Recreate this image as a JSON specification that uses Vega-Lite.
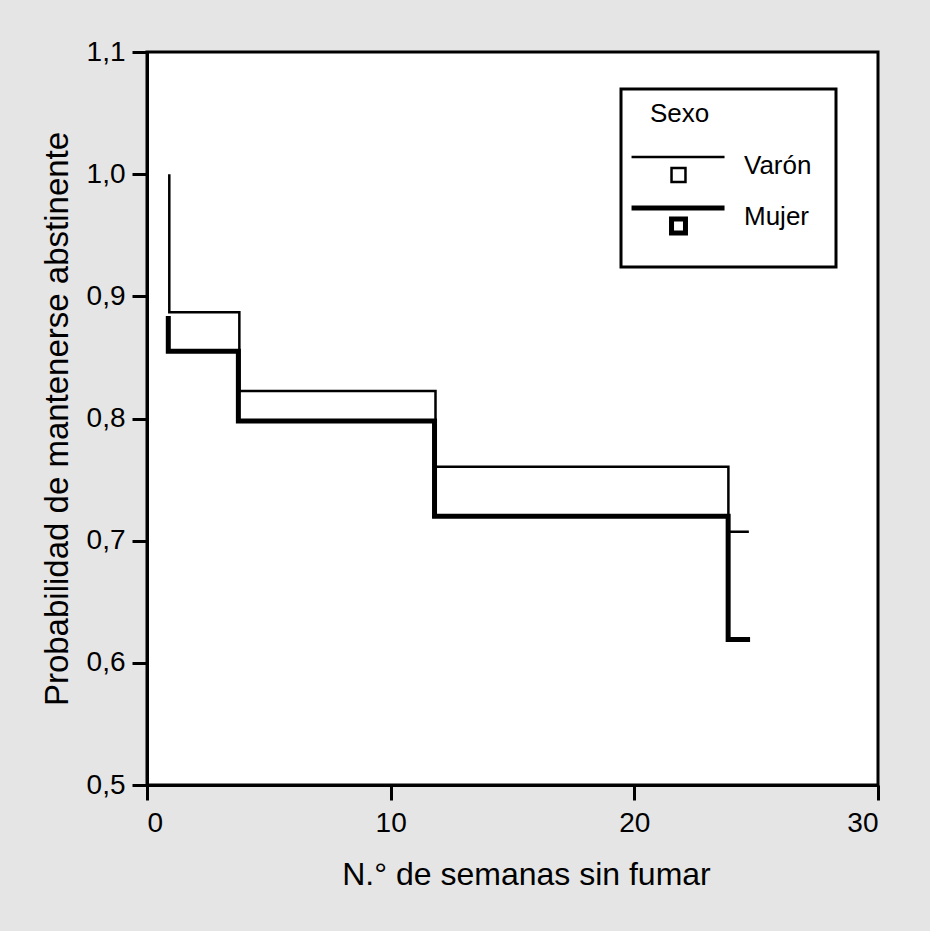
{
  "$schema": "https://vega.github.io/schema/vega-lite/v6.json",
  "width": 731,
  "height": 733,
  "autosize": {"type": "none"},
  "padding": {"left": 147, "top": 52, "right": 52, "bottom": 146},
  "background": "#e5e5e5",
  "config": {
    "font": "Liberation Sans",
    "view": {"fill": "white", "stroke": "black", "strokeWidth": 3},
    "axis": {
      "domainColor": "black", "domainWidth": 3,
      "tickColor": "black", "tickWidth": 3, "tickSize": 15,
      "labelFontSize": 28, "labelColor": "black", "labelFont": "Liberation Sans",
      "titleFontWeight": "normal", "titleColor": "black", "titleFont": "Liberation Sans",
      "grid": false
    },
    "legend": {
      "orient": "none", "legendX": 474, "legendY": 37,
      "padding": 24, "fillColor": "white", "strokeColor": "black",
      "titleFontSize": 26, "titleFontWeight": "normal", "titleColor": "black", "titleFont": "Liberation Sans", "titlePadding": 10,
      "labelFontSize": 26, "labelColor": "black", "labelFont": "Liberation Sans", "labelOffset": 69,
      "rowPadding": 11,
      "symbolType": "M-2.03,-0.58H3.97M0.55,0.13H1.45V1.03H0.55Z",
      "symbolSize": 961,
      "symbolStrokeColor": "black",
      "symbolFillColor": "transparent",
      "symbolOpacity": 1
    }
  },
  "data": {
    "values": [
      {"sexo": "Varón", "i": 0, "semanas": 0.915, "prob": 1.0},
      {"sexo": "Varón", "i": 1, "semanas": 0.915, "prob": 0.887},
      {"sexo": "Varón", "i": 2, "semanas": 3.79, "prob": 0.8225},
      {"sexo": "Varón", "i": 3, "semanas": 11.84, "prob": 0.7606},
      {"sexo": "Varón", "i": 4, "semanas": 23.86, "prob": 0.7074},
      {"sexo": "Varón", "i": 5, "semanas": 24.7, "prob": 0.7074},
      {"sexo": "Mujer", "i": 0, "semanas": 0.874, "prob": 0.884},
      {"sexo": "Mujer", "i": 1, "semanas": 0.874, "prob": 0.855},
      {"sexo": "Mujer", "i": 2, "semanas": 3.75, "prob": 0.798},
      {"sexo": "Mujer", "i": 3, "semanas": 11.8, "prob": 0.72},
      {"sexo": "Mujer", "i": 4, "semanas": 23.85, "prob": 0.619},
      {"sexo": "Mujer", "i": 5, "semanas": 24.75, "prob": 0.619}
    ]
  },
  "mark": {"type": "line", "interpolate": "step-after", "color": "black", "strokeJoin": "miter"},
  "encoding": {
    "x": {
      "field": "semanas", "type": "quantitative",
      "scale": {"domain": [0, 30]},
      "axis": {"title": "N.° de semanas sin fumar", "titleFontSize": 32, "titleX": 379, "values": [0, 10, 20, 30], "labelPadding": 9, "titlePadding": 22}
    },
    "y": {
      "field": "prob", "type": "quantitative",
      "scale": {"domain": [0.5, 1.1]},
      "axis": {
        "title": "Probabilidad de mantenerse abstinente",
        "titleFontSize": 33,
        "values": [0.5, 0.6, 0.7, 0.8, 0.9, 1.0, 1.1],
        "labelExpr": "replace(format(datum.value, '.1f'), '.', ',')",
        "labelPadding": 7, "titlePadding": 12
      }
    },
    "strokeWidth": {
      "field": "sexo", "type": "ordinal",
      "scale": {"domain": ["Varón", "Mujer"], "range": [2.5, 5]},
      "legend": {
        "title": "Sexo",
        "encode": {
          "legend": {"update": {"strokeWidth": {"value": 3}}},
          "title": {"update": {"dy": {"value": -12}, "dx": {"value": 5}}},
          "labels": {"update": {"dx": {"value": -6}}}
        }
      }
    },
    "order": {"field": "i", "type": "quantitative"}
  }
}
